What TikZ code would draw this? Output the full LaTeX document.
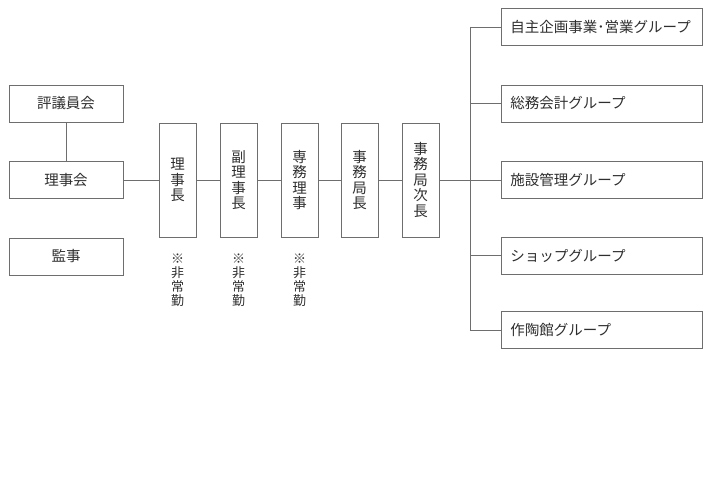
\documentclass[tikz,border=0pt]{standalone}
\usepackage{fontspec}
\setmainfont{Noto Sans CJK JP}
\usetikzlibrary{positioning}
\definecolor{cLine}{HTML}{6E6E6E}
\definecolor{cInk}{HTML}{2E2E2E}
\tikzset{
  every node/.style={font=\fontsize{14.5}{15.5}\selectfont, text=cInk},
  hbox/.style={draw=cLine, line width=0.9pt, minimum width=114pt, minimum height=37pt, inner sep=0pt},
  vbox/.style={draw=cLine, line width=0.9pt, minimum width=37pt, minimum height=114pt, inner sep=0pt, align=center},
  gbox/.style={draw=cLine, line width=0.9pt, anchor=west, minimum height=37pt, text width=183pt, inner xsep=9pt, inner ysep=0pt, align=left},
  note/.style={font=\fontsize{13}{14}\selectfont, align=center, inner sep=0pt},
  link/.style={draw=cLine, line width=0.9pt},
}
\begin{document}
\begin{tikzpicture}[x=1pt,y=-1pt]
\useasboundingbox (0,0) rectangle (710,500);
% left column
\node[hbox] (hyogi) at (66,103.5) {評議員会};
\node[hbox] (rijikai) at (66,180) {理事会};
\node[hbox] (kanji) at (66,256.5) {監事};
% officers
\node[vbox] (rijicho) at (177.5,180) {理\\事\\長};
\node[vbox] (fuku) at (238.5,180) {副\\理\\事\\長};
\node[vbox] (senmu) at (299.5,180) {専\\務\\理\\事};
\node[vbox] (kyokucho) at (359.5,180) {事\\務\\局\\長};
\node[vbox] (jicho) at (420.5,180) {事\\務\\局\\次\\長};
\node[note, below=16pt of rijicho] (n1) {※\\非\\常\\勤};
\node[note, below=16pt of fuku] (n2) {※\\非\\常\\勤};
\node[note, below=16pt of senmu] (n3) {※\\非\\常\\勤};
% groups
\node[gbox] (g1) at (501,27) {自主企画事業･営業グループ};
\node[gbox] (g2) at (501,103.5) {総務会計グループ};
\node[gbox] (g3) at (501,180) {施設管理グループ};
\node[gbox] (g4) at (501,255.5) {ショップグループ};
\node[gbox] (g5) at (501,330) {作陶館グループ};
\coordinate (bus) at (470,180);
% connectors
\draw[link] (hyogi) -- (rijikai);
\draw[link] (rijikai) -- (rijicho);
\draw[link] (rijicho) -- (fuku);
\draw[link] (fuku) -- (senmu);
\draw[link] (senmu) -- (kyokucho);
\draw[link] (kyokucho) -- (jicho);
\draw[link] (jicho) -- (bus);
\draw[link] (bus |- g1.west) -- (bus |- g5.west);
\foreach \g in {g1,g2,g3,g4,g5}
  \draw[link] (bus |- \g.west) -- (\g.west);
\end{tikzpicture}
\end{document}
